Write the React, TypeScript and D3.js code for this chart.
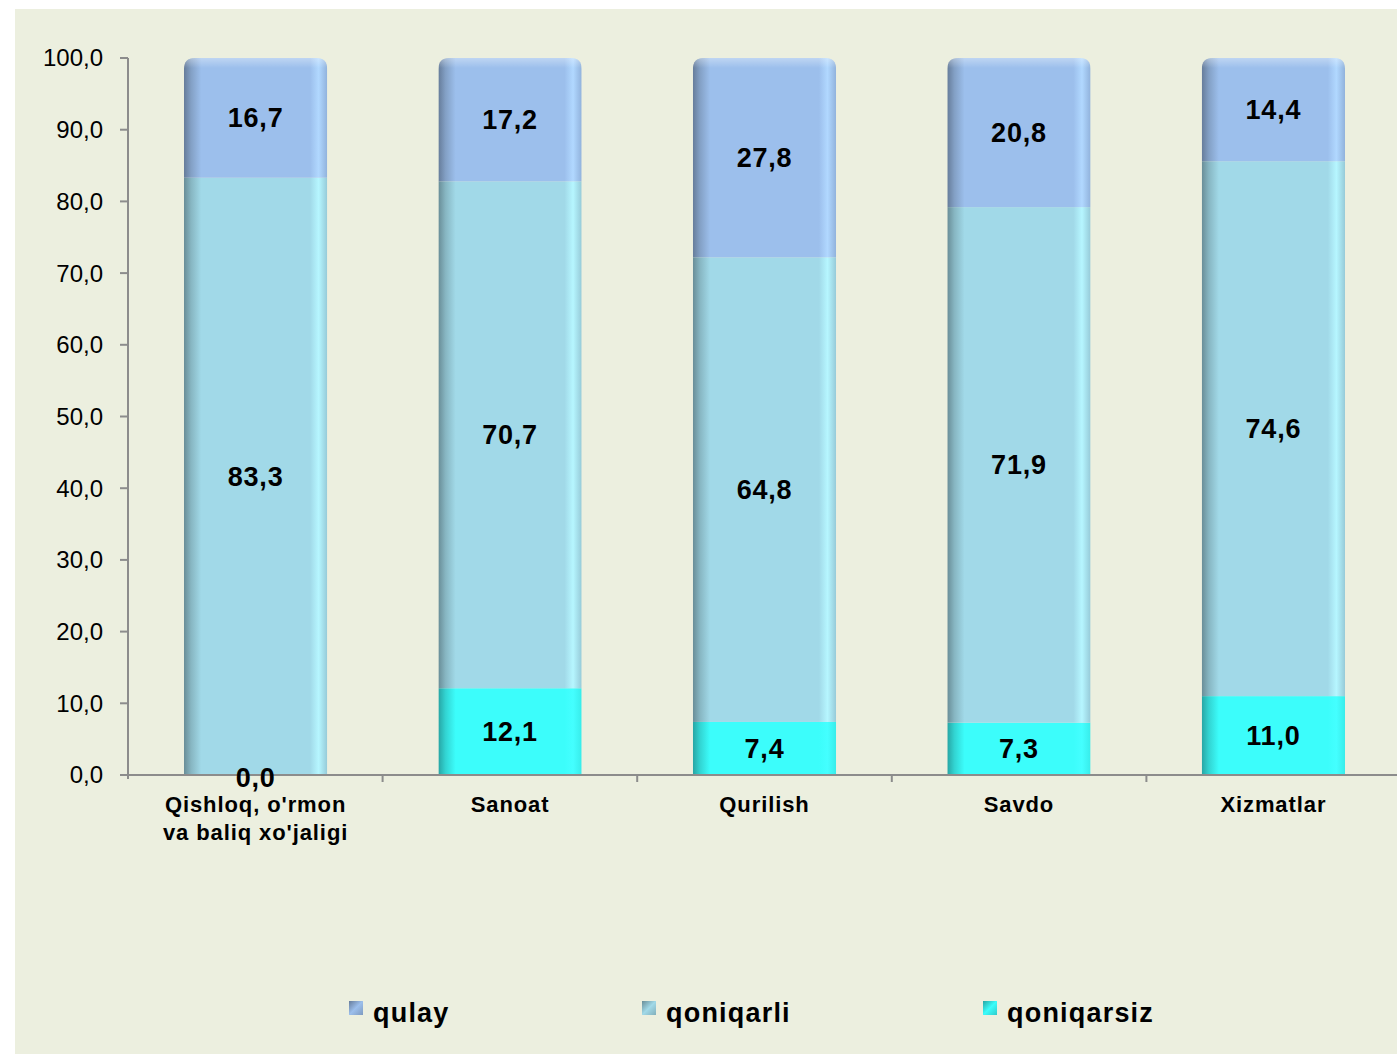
import React, { useRef, useEffect } from 'react';
import * as d3 from 'd3';

// categories and values (per cent)
const categories = ["Qishloq, o'rmon\nva baliq xo'jaligi", 'Sanoat', 'Qurilish', 'Savdo', 'Xizmatlar'];
const qoniqarsiz = [0.0, 12.1, 7.4, 7.3, 11.0];
const qoniqarli = [83.3, 70.7, 64.8, 71.9, 74.6];
const qulay = [16.7, 17.2, 27.8, 20.8, 14.4];
const seriesNames = ['qulay', 'qoniqarli', 'qoniqarsiz'];
const yTicks = [0, 10, 20, 30, 40, 50, 60, 70, 80, 90, 100];

const colors: Record<string, string> = {
  qulay: '#9cbfec',
  qoniqarli: '#a1d9e8',
  qoniqarsiz: '#3cfdfb',
};

const fmt = (v: number) => v.toFixed(1).replace('.', ',');
const FONT = 'Liberation Sans, Arial, sans-serif';

const App = () => {
  const svgRef = useRef<SVGSVGElement>(null);

  useEffect(() => {
    const W = 1397, H = 1054;
    const svg = d3.select(svgRef.current).attr('width', W).attr('height', H);
    svg.selectAll('*').remove();

    // background panel
    svg.append('rect').attr('width', W).attr('height', H).attr('fill', '#ffffff');
    svg.append('rect').attr('x', 15).attr('y', 9).attr('width', W - 15).attr('height', H - 9).attr('fill', '#ecefdf');

    const left = 128, right = 1401, top = 58, bottom = 775;

    const x = d3.scaleBand().domain(categories).range([left, right]).paddingInner(0.437).paddingOuter(0.22);
    const xAxisBand = d3.scaleBand().domain(categories).range([left, right]);
    const y = d3.scaleLinear().domain([0, 100]).range([bottom, top]);

    const rows = categories.map((c, i) => ({ cat: c, qoniqarsiz: qoniqarsiz[i], qoniqarli: qoniqarli[i], qulay: qulay[i] }));
    const stack = d3.stack<any>().keys(['qoniqarsiz', 'qoniqarli', 'qulay']);
    const layers = stack(rows);

    const defs = svg.append('defs');
    Object.entries(colors).forEach(([k, c]) => {
      const base = d3.color(c)!;
      const g = defs.append('linearGradient').attr('id', 'g-' + k).attr('x1', 0).attr('x2', 1).attr('y1', 0).attr('y2', 0);
      g.append('stop').attr('offset', 0).attr('stop-color', base.darker(1.2).formatHex());
      g.append('stop').attr('offset', 0.05).attr('stop-color', base.darker(0.5).formatHex());
      g.append('stop').attr('offset', 0.12).attr('stop-color', c);
      g.append('stop').attr('offset', 0.88).attr('stop-color', c);
      g.append('stop').attr('offset', 0.94).attr('stop-color', base.brighter(0.35).formatHex());
      g.append('stop').attr('offset', 1).attr('stop-color', base.darker(0.2).formatHex());
    });
    const topG = defs.append('linearGradient').attr('id', 'g-top').attr('x1', 0).attr('x2', 0).attr('y1', 0).attr('y2', 1);
    topG.append('stop').attr('offset', 0).attr('stop-color', '#ffffff').attr('stop-opacity', 0.35);
    topG.append('stop').attr('offset', 1).attr('stop-color', '#ffffff').attr('stop-opacity', 0);

    const bw = x.bandwidth();
    const r = 11;
    categories.forEach((c, i) => {
      const x0 = x(c)!;
      const y0 = y(100), y1 = y(0);
      const p = `M${x0},${y1}V${y0 + r}Q${x0},${y0} ${x0 + r},${y0}H${x0 + bw - r}Q${x0 + bw},${y0} ${x0 + bw},${y0 + r}V${y1}Z`;
      defs.append('clipPath').attr('id', 'clip' + i).append('path').attr('d', p);
    });

    const g = svg.append('g');
    layers.forEach(layer => {
      layer.forEach((d, i) => {
        const c = categories[i];
        g.append('rect')
          .attr('clip-path', `url(#clip${i})`)
          .attr('x', x(c)!)
          .attr('y', y(d[1]))
          .attr('width', bw)
          .attr('height', Math.max(0, y(d[0]) - y(d[1])))
          .attr('fill', `url(#g-${layer.key})`);
      });
    });
    // top highlight on caps
    categories.forEach((c, i) => {
      g.append('rect').attr('clip-path', `url(#clip${i})`)
        .attr('x', x(c)!).attr('y', y(100)).attr('width', bw).attr('height', 10)
        .attr('fill', 'url(#g-top)');
    });

    // axes
    const axisColor = '#8c8c8c';
    svg.append('line').attr('x1', left).attr('x2', left).attr('y1', top).attr('y2', bottom + 4).attr('stroke', axisColor).attr('stroke-width', 2);
    svg.append('line').attr('x1', left - 7).attr('x2', W).attr('y1', bottom).attr('y2', bottom).attr('stroke', axisColor).attr('stroke-width', 2);
    yTicks.forEach(t => {
      svg.append('line').attr('x1', left - 8).attr('x2', left).attr('y1', y(t)).attr('y2', y(t)).attr('stroke', axisColor).attr('stroke-width', 2);
      svg.append('text').attr('x', 103).attr('y', y(t)).attr('dy', '0.35em').attr('text-anchor', 'end')
        .style('font-family', FONT).style('font-size', '24px').attr('fill', '#000')
        .text(fmt(t));
    });
    categories.forEach((c, i) => {
      if (i === 0) return;
      const xx = xAxisBand(c)!;
      svg.append('line').attr('x1', xx).attr('x2', xx).attr('y1', bottom).attr('y2', bottom + 7).attr('stroke', axisColor).attr('stroke-width', 2);
    });

    // category labels
    categories.forEach(c => {
      const cx = x(c)! + bw / 2;
      const t = svg.append('text').attr('text-anchor', 'middle')
        .style('font-family', FONT).style('font-size', '22px').style('font-weight', 'bold')
        .style('letter-spacing', '0.9px').attr('fill', '#000');
      c.split('\n').forEach((line, j) => {
        t.append('tspan').attr('x', cx).attr('y', 812 + j * 28).text(line);
      });
    });

    // value labels
    layers.forEach(layer => {
      layer.forEach((d, i) => {
        const c = categories[i];
        const v = d[1] - d[0];
        const cy = v === 0 ? y(0) + 3 : (y(d[0]) + y(d[1])) / 2;
        svg.append('text').attr('x', x(c)! + bw / 2).attr('y', cy).attr('dy', '0.35em').attr('text-anchor', 'middle')
          .style('font-family', FONT).style('font-size', '27px').style('font-weight', 'bold')
          .style('letter-spacing', '0.8px').attr('fill', '#000')
          .text(fmt(v));
      });
    });

    // legend
    const legendX = [349, 642, 983];
    seriesNames.forEach((s, i) => {
      const lx = legendX[i];
      const lg = defs.append('linearGradient').attr('id', 'lg-' + s).attr('x1', 0).attr('x2', 1).attr('y1', 0).attr('y2', 1);
      const base = d3.color(colors[s])!;
      lg.append('stop').attr('offset', 0).attr('stop-color', base.darker(1.2).formatHex());
      lg.append('stop').attr('offset', 0.5).attr('stop-color', colors[s]);
      lg.append('stop').attr('offset', 1).attr('stop-color', base.darker(0.6).formatHex());
      svg.append('rect').attr('x', lx).attr('y', 1001).attr('width', 14).attr('height', 14).attr('fill', `url(#lg-${s})`);
      svg.append('text').attr('x', lx + 24).attr('y', 1013).attr('dy', '0.35em')
        .style('font-family', FONT).style('font-size', '27px').style('font-weight', 'bold')
        .style('letter-spacing', '1.2px').attr('fill', '#000')
        .text(s);
    });
  }, []);

  return (
    <svg ref={svgRef} style={{ position: 'absolute', left: 0, top: 0 }}></svg>
  );
};

export default App;
